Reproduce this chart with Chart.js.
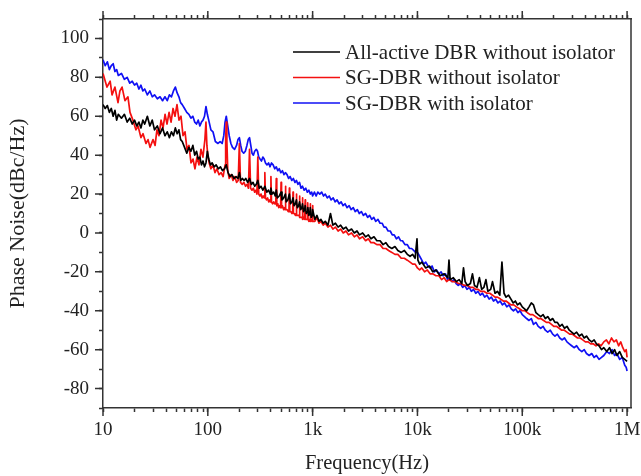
<!DOCTYPE html>
<html>
<head>
<meta charset="utf-8">
<script src="https://cdn.jsdelivr.net/npm/chart.js@4.4.0/dist/chart.umd.min.js"></script>
<style>
  html, body { margin: 0; padding: 0; background: #fff; }
</style>
</head>
<body>
<canvas id="pn" width="641" height="476"></canvas>
<script>
// tick labels
const xMajor = [10, 100, 1000, 10000, 100000, 1000000]
const xTickLabels = ['10', '100', '1k', '10k', '100k', '1M']
const yTickLabels = [-80, -60, -40, -20, 0, 20, 40, 60, 80, 100]

const seriesNames = ['All-active DBR without isolator', 'SG-DBR without isolator', 'SG-DBR with isolator']
const seriesColors = ['#000000', '#f41010', '#1010f4']

// [frequency Hz, phase noise dBc/Hz]
const blackTrace = [
  [10,66],[10.5,64],[11,65.5],[11.5,62],[12,64],[12.5,60],[13,63],[13.5,58],[14,61],[15,59],[16,61],[17,57],[18,59],[19,56],[20,58],[21,55],[22,57],[23,54],[24,58],[25,56],[26.5,60],[28,55],[29.5,58],[31,53],[33,55],[35,51],[37,54],[39,50],[41,52],[43,49],[45,52],[47,50],[49,54],[51,51],[53,53],[55,48],[57,47],[60,44],[63,41],[66,44],[69,42],[72,45],[75,40],[78,42],[81,38],[84,39],[87,35],[90,37],[93,34],[96,36],[99,42],
  [102,38],[106,35],[110,36],[115,34],[120,35],[126,33],[132,34],[138,32],[144,33],[150,35],[156,31],[163,29],[170,30],[178,28],[186,29],[194,28],[200,31],[206,27],[214,28],[222,27],[230,28],[240,26],[250,28],[260,25],[270,26],[280,24],[290,25],[300,27],[310,23],[322,24],[335,22],[350,24],[365,21],[380,22],[395,20],[400,23],[410,20],[425,21],[440,19],[450,22],[460,18],[480,19],[500,21],[510,17],[530,18],[550,20],[560,16],[580,17],[600,20],[615,15],[635,16],[650,18],[665,14],[685,15],[700,17],[715,13],[735,14],[750,16],[770,12],[790,13],[800,15],[820,11],[840,12],[850,14],[870,10],[890,11],[900,13],[920,9],[940,10],[950,13],[970,8],[990,9],[1000,12],
  [1050,7],[1100,9],[1150,6],[1200,7],[1260,5],[1320,6],[1400,4],[1480,10],[1560,4],[1650,5],[1750,3],[1850,4],[1960,2],[2080,3],[2200,1],[2350,2],[2500,0],[2650,1],[2800,-1],[3000,0],[3200,-2],[3400,-1],[3600,-3],[3850,-2],[4100,-4],[4400,-4],[4700,-6],[5000,-5],[5300,-7],[5700,-8],[6100,-7],[6500,-9],[7000,-10],[7500,-9],[8000,-11],[8500,-12],[9000,-11],[9500,-13],[9900,-3],[10100,-14],
  [10500,-16],[11000,-15],[12000,-18],[13000,-17],[14000,-20],[15000,-19],[16500,-22],[18000,-21],[19500,-23],[20000,-14],[20500,-24],[22000,-23],[23500,-25],[25000,-24],[26500,-26],[27500,-18],[28500,-25],[30000,-27],[32000,-26],[33500,-21],[35000,-27],[37000,-28],[39000,-23],[41000,-29],[43000,-28],[45000,-24],[47000,-30],[50000,-29],[52000,-25],[55000,-31],[58000,-30],[61000,-32],[64000,-15],[67000,-31],[70000,-33],[74000,-32],[78000,-34],[82000,-36],[86000,-35],[90000,-37],[95000,-36],[100000,-38],
  [105000,-39],[110000,-40],[116000,-38],[122000,-36],[128000,-37],[135000,-41],[142000,-42],[150000,-43],[158000,-42],[166000,-44],[175000,-43],[185000,-45],[195000,-44],[205000,-46],[216000,-46],[228000,-48],[240000,-47],[253000,-49],[267000,-48],[281000,-50],[296000,-51],[312000,-52],[330000,-51],[350000,-53],[370000,-52],[390000,-54],[410000,-53],[435000,-55],[460000,-56],[485000,-55],[510000,-57],[540000,-58],[570000,-60],[600000,-59],[640000,-61],[680000,-59],[720000,-62],[760000,-60],[800000,-63],[850000,-61],[900000,-64],[950000,-65],[1000000,-66]
]

const redTrace = [
  [10,82],[10.9,75],[11.7,78],[12.2,71],[13,75],[13.9,67],[14.5,73],[15.2,75],[16.2,68],[17.3,70],[18.1,62],[19.3,58],[20.6,53],[21.6,55],[23,49],[24.1,51],[25.7,46],[26.9,48],[28.1,44],[30,48],[31.4,45],[32.7,53],[34.2,50],[35.8,58],[37.4,54],[39.1,61],[40.8,56],[42.7,62],[44.6,57],[46.6,64],[48.6,60],[50.8,66],[53.1,58],[55.5,60],[58,50],[60.6,52],[63.3,43],[66.1,45],[69.1,36],[72.2,38],[75.4,33],[78.8,39],[82.3,35],[86,43],[89.8,39],[93.8,48],[96,57],[98,45],[100,40],
  [103,36],[107,33],[112,35],[117,31],[122,33],[128,30],[134,31],[140,29],[146,35],[148,48],[150,57],[152,47],[155,32],[160,28],[167,30],[174,27],[181,29],[188,26],[195,27],[200,46],[205,26],[213,25],[221,26],[229,24],[237,25],[244,23],[250,43],[256,23],[264,22],[272,23],[280,21],[288,22],[294,20],[300,39],[306,20],[314,19],[322,20],[330,18],[338,19],[345,18],[350,31],[355,18],[363,17],[372,18],[381,16],[390,17],[395,16],[400,29],[405,16],[415,15],[425,16],[435,15],[445,15],[450,28],[455,14],[465,15],[475,13],[485,14],[495,13],[500,26],[505,13],[515,14],[530,12],[540,13],[545,12],[550,24],[555,12],[570,12],[585,11],[595,12],[600,23],[605,11],[620,11],[635,10],[645,11],[650,21],[655,10],[670,10],[685,9],[695,10],[700,20],[705,9],[720,9],[735,9],[745,9],[750,19],[755,8],[770,8],[785,8],[795,8],[800,18],[805,7],[820,8],[835,7],[845,7],[850,17],[855,7],[870,7],[885,7],[895,7],[900,15.5],[905,7],[920,6],[935,7],[945,6],[950,15],[955,6],[970,7],[985,6],[995,6],[1000,14],[1005,6],
  [1050,6],[1100,8],[1150,5],[1200,6],[1260,4],[1320,5],[1400,3],[1480,4],[1560,2],[1650,3],[1750,1],[1850,2],[1960,0],[2080,1],[2200,-1],[2350,0],[2500,-2],[2650,-1],[2800,-3],[3000,-2],[3200,-4],[3400,-3],[3600,-5],[3850,-5],[4100,-6],[4400,-6],[4700,-8],[5000,-8],[5300,-9],[5700,-10],[6100,-11],[6500,-11],[7000,-13],[7500,-13],[8000,-14],[8500,-15],[9000,-16],[9500,-16],[10000,-18],
  [10500,-19],[11000,-18],[11700,-20],[12400,-19],[13200,-21],[14000,-21],[15000,-22],[16000,-22],[17000,-24],[18000,-23],[19000,-25],[20000,-24],[21500,-25],[23000,-25],[24500,-26],[26000,-26],[28000,-27],[30000,-27],[32000,-28],[34000,-28],[36000,-29],[38000,-29],[40000,-30],[43000,-30],[46000,-31],[49000,-31],[52000,-32],[55000,-33],[58000,-33],[62000,-34],[66000,-35],[70000,-35],[74000,-36],[78000,-37],[83000,-37],[88000,-38],[94000,-39],[100000,-40],
  [106000,-40],[112000,-41],[119000,-42],[126000,-42],[134000,-43],[142000,-44],[150000,-44],[160000,-45],[170000,-46],[180000,-46],[190000,-47],[200000,-48],[212000,-48],[225000,-49],[238000,-50],[252000,-50],[267000,-51],[283000,-52],[300000,-52],[318000,-53],[337000,-54],[357000,-54],[378000,-55],[400000,-56],[425000,-56],[450000,-57],[475000,-57],[505000,-58],[535000,-57],[565000,-58],[600000,-56],[635000,-55],[670000,-57],[710000,-54],[750000,-56],[790000,-55],[830000,-58],[870000,-56],[910000,-59],[950000,-61],[980000,-60],[1000000,-64]
]

const blueTrace = [
  [10,89],[10.5,86],[11,88],[11.5,84],[12,86],[12.5,87],[13,83],[13.5,84],[14,81],[15,82],[16,79],[17,80],[18,77],[19,78],[20,76],[21,77],[22,74],[23,76],[24,73],[25,74],[26.5,71],[28,73],[29.5,70],[31,71],[33,69],[35,70],[37,68],[39,70],[41,68],[43,71],[45,70],[47,73],[49,75],[51,72],[53,70],[55,67],[57,66],[60,64],[63,62],[66,61],[69,59],[72,60],[75,57],[78,56],[81,58],[84,55],[87,57],[90,58],[93,60],[96,65],[99,61],
  [103,57],[107,53],[112,52],[118,47],[125,46],[131,47],[137,46],[142,50],[146,57],[150,60],[154,56],[160,50],[166,46],[172,44],[180,43],[188,45],[194,48],[200,49],[206,45],[212,42],[220,41],[228,42],[236,45],[243,48],[250,49],[257,45],[264,41],[272,40],[280,42],[290,43],[298,42],[306,39],[315,38],[325,37],[335,39],[345,38],[355,36],[367,35],[380,36],[392,34],[405,36],[420,35],[435,33],[450,34],[465,32],[480,33],[497,31],[515,32],[533,30],[550,31],[570,30],[590,28],[610,29],[632,27],[655,28],[678,26],[700,27],[725,25],[750,26],[775,23],[800,24],[830,22],[860,23],[890,21],[920,22],[950,20],[980,21],[1000,19],
  [1040,21],[1080,19],[1120,21],[1170,20],[1220,21],[1270,19],[1320,20],[1380,18],[1440,19],[1500,17],[1570,18],[1640,16],[1710,17],[1790,15],[1870,16],[1950,14],[2040,15],[2130,13],[2230,14],[2330,12],[2440,13],[2550,11],[2670,12],[2790,10],[2920,11],[3050,9],[3200,10],[3350,8],[3500,9],[3660,7],[3830,8],[4000,6],[4200,7],[4400,5],[4600,5],[4800,3],[5000,3],[5250,1],[5500,1],[5750,-1],[6000,-1],[6300,-3],[6600,-2],[6900,-4],[7200,-4],[7600,-6],[8000,-6],[8400,-8],[8800,-8],[9200,-9],[9600,-10],[10000,-10],
  [10500,-12],[11000,-14],[11500,-16],[12000,-15],[12600,-17],[13200,-18],[13800,-17],[14500,-20],[15200,-19],[16000,-21],[16800,-20],[17600,-22],[18500,-21],[19400,-24],[20300,-23],[21300,-25],[22300,-24],[23400,-26],[24500,-27],[25700,-26],[27000,-28],[28300,-27],[29700,-29],[31200,-28],[32700,-30],[34300,-29],[36000,-31],[37800,-30],[39700,-32],[41700,-31],[43800,-33],[46000,-32],[48300,-34],[50700,-33],[53200,-35],[55800,-34],[58600,-36],[61500,-35],[64600,-37],[67800,-36],[71200,-38],[74800,-37],[78500,-39],[82400,-40],[86500,-39],[90800,-41],[95300,-40],[100000,-42],
  [105000,-43],[110000,-44],[116000,-45],[122000,-44],[128000,-47],[135000,-46],[142000,-48],[150000,-49],[158000,-48],[166000,-50],[175000,-51],[185000,-50],[195000,-52],[205000,-53],[216000,-52],[228000,-54],[240000,-55],[253000,-54],[267000,-56],[281000,-57],[296000,-58],[312000,-59],[330000,-58],[350000,-60],[370000,-61],[390000,-60],[410000,-62],[435000,-63],[460000,-62],[485000,-64],[510000,-63],[540000,-65],[570000,-64],[600000,-63],[640000,-61],[680000,-62],[720000,-60],[760000,-63],[800000,-62],[850000,-65],[900000,-64],[950000,-68],[980000,-69],[1000000,-71]
]

const serif = "'Liberation Serif', 'Times New Roman', serif"
const axisColor = '#333'
Chart.defaults.font.family = serif
Chart.defaults.color = '#222'

// log ticks: 1..9 x each decade, plus 1M
let xTicks = []
xMajor.slice(0, -1).forEach(d => { for (let m = 1; m <= 9; m++) xTicks.push(d * m) })
xTicks.push(1000000)

const toPts = (tr) => tr.map(p => ({x: p[0], y: p[1]}))

const logAxis = (pos) => ({
  type: 'logarithmic',
  position: pos,
  min: 10,
  max: 1090000,
  afterBuildTicks: (s) => { s.ticks = xTicks.map(v => ({value: v})) },
  grid: {drawOnChartArea: false, tickLength: 4, tickWidth: 1.5, tickColor: axisColor},
  border: {color: axisColor, width: 1.5}
})

const frame = {
  id: 'frame',
  afterDraw(chart) {
    const {ctx, chartArea: a, scales} = chart
    ctx.save()
    ctx.strokeStyle = axisColor
    ctx.lineWidth = 1.5
    ctx.beginPath()
    // longer major ticks
    xMajor.forEach(v => {
      const px = scales.x.getPixelForValue(v)
      ctx.moveTo(px, a.bottom); ctx.lineTo(px, a.bottom + 8)
      ctx.moveTo(px, a.top); ctx.lineTo(px, a.top - 8)
    })
    yTickLabels.forEach(v => {
      const py = scales.y.getPixelForValue(v)
      ctx.moveTo(a.left, py); ctx.lineTo(a.left - 8, py)
    })
    ctx.moveTo(a.right, a.top); ctx.lineTo(a.right, a.bottom)
    ctx.stroke()

    // legend inside the plot
    ctx.font = '21px ' + serif
    ctx.textBaseline = 'middle'
    ctx.fillStyle = '#222'
    chart.data.datasets.forEach((ds, i) => {
      const y = a.top + 33 + i * 25.5
      ctx.strokeStyle = ds.borderColor
      ctx.beginPath()
      ctx.moveTo(a.left + 190, y); ctx.lineTo(a.left + 237, y)
      ctx.stroke()
      ctx.fillText(ds.label, a.left + 242, y + 1)
    })
    ctx.restore()
  }
}

const traces = [blackTrace, redTrace, blueTrace]

new Chart(document.getElementById('pn'), {
  type: 'line',
  data: {
    datasets: traces.map((tr, i) => ({
      label: seriesNames[i],
      data: toPts(tr),
      borderColor: seriesColors[i],
      borderWidth: 1.7,
      pointRadius: 0,
      tension: 0,
      borderJoinStyle: 'round'
    }))
  },
  options: {
    responsive: false,
    animation: false,
    layout: {padding: {left: 0, right: 10, top: 0, bottom: 0}},
    plugins: {legend: {display: false}, tooltip: {enabled: false}},
    scales: {
      x: Object.assign(logAxis('bottom'), {
        ticks: {
          autoSkip: false, maxRotation: 0, padding: 7, font: {size: 19},
          callback: (v) => { const i = xMajor.indexOf(v); return i >= 0 ? xTickLabels[i] : '' }
        },
        title: {display: true, text: 'Frequency(Hz)', font: {size: 20.5}, padding: {top: 0, bottom: 0}},
        afterFit: (s) => { s.height = 68; s.paddingLeft = 0; s.paddingRight = 0 }
      }),
      x2: Object.assign(logAxis('top'), {
        ticks: {display: false},
        afterFit: (s) => { s.height = 19; s.paddingLeft = 0; s.paddingRight = 0 }
      }),
      y: {
        type: 'linear',
        min: -90,
        max: 110,
        ticks: {
          stepSize: 10, autoSkip: false, padding: 10, font: {size: 19},
          callback: (v) => yTickLabels.includes(v) ? String(v) : ''
        },
        grid: {drawOnChartArea: false, tickLength: 4, tickWidth: 1.5, tickColor: axisColor},
        border: {color: axisColor, width: 1.5},
        title: {display: true, text: 'Phase Noise(dBc/Hz)', font: {size: 22}, padding: {top: 5, bottom: 0}},
        afterFit: (s) => { s.width = 103; s.paddingTop = 0; s.paddingBottom = 0 }
      }
    }
  },
  plugins: [frame]
})
</script>
</body>
</html>
